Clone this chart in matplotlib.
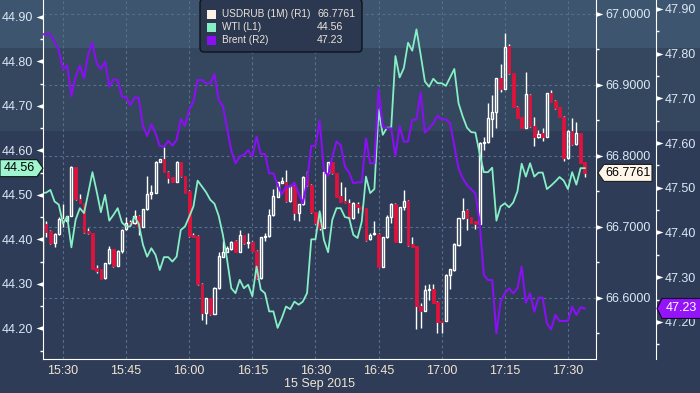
import numpy as np
import pandas as pd
import matplotlib
matplotlib.use("Agg")
import matplotlib.pyplot as plt
import matplotlib.dates as mdates
from matplotlib.patches import Rectangle, Polygon, FancyBboxPatch
from matplotlib.transforms import IdentityTransform
from matplotlib.ticker import FixedLocator, MultipleLocator, FormatStrFormatter

plt.rcParams['font.family'] = ['Liberation Sans', 'DejaVu Sans']

# one-minute bars, 15:25 .. 17:34
times = pd.date_range("2015-09-15 15:25", periods=130, freq="min")

rub_open = [
    66.6488, 66.7042, 66.6949, 66.6770, 66.6897, 66.7113, 66.7080, 66.7150, 66.7850, 66.7389,
    66.7333, 66.6944, 66.6911, 66.6427, 66.6404, 66.6277, 66.6488, 66.6686, 66.6455, 66.6667,
    66.6967, 66.7066, 66.7052, 66.7160, 66.7005, 66.7249, 66.7460, 66.7484, 66.7920, 66.7953,
    66.7780, 66.7700, 66.7639, 66.7920, 66.7722, 66.7507, 66.6888, 66.6878, 66.6197, 66.5784,
    66.5995, 66.5775, 66.6136, 66.6582, 66.6653, 66.6690, 66.6808, 66.6653, 66.6883, 66.6770,
    66.6794, 66.6667, 66.6277, 66.6855, 66.6878, 66.7170, 66.7427, 66.7624, 66.7639, 66.7366,
    66.7582, 66.7202, 66.7319, 66.7718, 66.7592, 66.7207, 66.7066, 66.6991, 66.7765, 66.7911,
    66.7756, 66.7436, 66.7366, 66.7333, 66.7122, 66.7324, 66.7287, 66.7263, 66.6827, 66.6897,
    66.6902, 66.6441, 66.6855, 66.7136, 66.7324, 66.6794, 66.7277, 66.7366, 66.6756, 66.6728,
    66.5887, 66.5821, 66.6113, 66.6122, 66.5944, 66.5671, 66.5681, 66.6324, 66.6395, 66.6747,
    66.7122, 66.7239, 66.7136, 66.7077, 66.7047, 66.8178, 66.8192, 66.8522, 66.8615, 66.9094,
    66.8944, 66.9549, 66.9164, 66.8695, 66.8545, 66.8399, 66.8860, 66.8423, 66.8263, 66.8319,
    66.8273, 66.8883, 66.8775, 66.8686, 66.8554, 66.7967, 66.8352, 66.8164, 66.8319, 66.7911,
]
rub_high = [
    66.7150, 66.7089, 66.6958, 66.6911, 66.7136, 66.7319, 66.7160, 66.7864, 66.7850, 66.7465,
    66.7342, 66.6982, 66.6911, 66.6464, 66.6404, 66.6497, 66.6733, 66.6686, 66.6676, 66.6967,
    66.7136, 66.7099, 66.7234, 66.7169, 66.7258, 66.7718, 66.7592, 66.7930, 66.7963, 66.8133,
    66.7789, 66.7709, 66.7930, 66.7920, 66.7722, 66.7521, 66.6911, 66.6888, 66.6206, 66.6004,
    66.6004, 66.6150, 66.6653, 66.6808, 66.6738, 66.6808, 66.6817, 66.6958, 66.6892, 66.6911,
    66.6808, 66.6676, 66.6864, 66.6911, 66.7254, 66.7535, 66.7639, 66.7709, 66.7803, 66.7592,
    66.7592, 66.7324, 66.7718, 66.7794, 66.7601, 66.7216, 66.7193, 66.7789, 66.7920, 66.7920,
    66.7765, 66.7639, 66.7568, 66.7394, 66.7357, 66.7357, 66.7301, 66.7272, 66.6911, 66.7089,
    66.6911, 66.6864, 66.7170, 66.7333, 66.7333, 66.7287, 66.7521, 66.7376, 66.6855, 66.6738,
    66.5925, 66.6183, 66.6192, 66.6192, 66.5953, 66.5681, 66.6333, 66.6413, 66.6770, 66.7132,
    66.7413, 66.7249, 66.7146, 66.7085, 66.8202, 66.8273, 66.8752, 66.8860, 66.9104, 66.9296,
    66.9728, 66.9577, 66.9174, 66.8704, 66.8554, 66.9188, 66.8869, 66.8554, 66.8366, 66.8399,
    66.8892, 66.8930, 66.8789, 66.8695, 66.8563, 66.8361, 66.8540, 66.8474, 66.8329, 66.7920,
]
rub_low = [
    66.6460, 66.6864, 66.6761, 66.6723, 66.6888, 66.7005, 66.7066, 66.7150, 66.7380, 66.7333,
    66.6920, 66.6902, 66.6413, 66.6357, 66.6263, 66.6272, 66.6479, 66.6441, 66.6451, 66.6629,
    66.6958, 66.7028, 66.7042, 66.6883, 66.6996, 66.7239, 66.7394, 66.7474, 66.7911, 66.7771,
    66.7615, 66.7630, 66.7630, 66.7709, 66.7474, 66.6864, 66.6855, 66.6183, 66.5690, 66.5630,
    66.5761, 66.5770, 66.6131, 66.6573, 66.6643, 66.6676, 66.6643, 66.6643, 66.6761, 66.6700,
    66.6657, 66.6267, 66.6267, 66.6808, 66.6864, 66.7160, 66.7418, 66.7615, 66.7357, 66.7357,
    66.7099, 66.7089, 66.7314, 66.7582, 66.7193, 66.7042, 66.6958, 66.6981, 66.7756, 66.7747,
    66.7418, 66.7348, 66.7333, 66.7113, 66.7113, 66.7193, 66.7249, 66.6808, 66.6817, 66.6888,
    66.6432, 66.6432, 66.6845, 66.7052, 66.6784, 66.6784, 66.7239, 66.6738, 66.6714, 66.5558,
    66.5577, 66.5812, 66.5972, 66.5925, 66.5502, 66.5502, 66.5671, 66.6127, 66.6385, 66.6738,
    66.7113, 66.6958, 66.7052, 66.6967, 66.7038, 66.8085, 66.8178, 66.8273, 66.8399, 66.8897,
    66.8939, 66.9155, 66.8686, 66.8531, 66.8390, 66.8390, 66.8413, 66.8146, 66.8249, 66.8216,
    66.8263, 66.8756, 66.8662, 66.8545, 66.7935, 66.7958, 66.8155, 66.8155, 66.7897, 66.7709,
]
rub_close = [
    66.7122, 66.6934, 66.6770, 66.6897, 66.7113, 66.7085, 66.7150, 66.7850, 66.7389, 66.7342,
    66.6934, 66.6911, 66.6413, 66.6385, 66.6272, 66.6488, 66.6690, 66.6451, 66.6667, 66.6958,
    66.7052, 66.7047, 66.7150, 66.7005, 66.7249, 66.7465, 66.7488, 66.7920, 66.7953, 66.7780,
    66.7696, 66.7639, 66.7920, 66.7718, 66.7484, 66.6878, 66.6864, 66.6197, 66.5784, 66.5995,
    66.5775, 66.6136, 66.6591, 66.6653, 66.6700, 66.6794, 66.6653, 66.6883, 66.6770, 66.6794,
    66.6667, 66.6277, 66.6855, 66.6878, 66.7170, 66.7436, 66.7629, 66.7648, 66.7366, 66.7582,
    66.7202, 66.7319, 66.7709, 66.7592, 66.7207, 66.7052, 66.6991, 66.7780, 66.7911, 66.7756,
    66.7427, 66.7357, 66.7342, 66.7122, 66.7333, 66.7287, 66.7254, 66.6817, 66.6888, 66.6911,
    66.6441, 66.6855, 66.7136, 66.7324, 66.6794, 66.7277, 66.7366, 66.6747, 66.6723, 66.5887,
    66.5821, 66.6113, 66.6122, 66.5934, 66.5667, 66.5657, 66.6324, 66.6404, 66.6761, 66.7122,
    66.7225, 66.7132, 66.7061, 66.7047, 66.8178, 66.8192, 66.8531, 66.8615, 66.9094, 66.8944,
    66.9531, 66.9164, 66.8695, 66.8540, 66.8399, 66.8869, 66.8423, 66.8263, 66.8305, 66.8273,
    66.8883, 66.8766, 66.8672, 66.8554, 66.7967, 66.8352, 66.8164, 66.8319, 66.7907, 66.7761,
]

wti = [
    44.504, 44.505, 44.511, 44.485, 44.478, 44.435, 44.451, 44.382, 44.444, 44.470,
    44.459, 44.504, 44.551, 44.508, 44.461, 44.500, 44.442, 44.455, 44.470, 44.438,
    44.429, 44.429, 44.451, 44.435, 44.388, 44.361, 44.380, 44.365, 44.331, 44.360,
    44.360, 44.350, 44.361, 44.421, 44.429, 44.451, 44.474, 44.532, 44.519, 44.506,
    44.489, 44.480, 44.453, 44.410, 44.354, 44.290, 44.279, 44.309, 44.290, 44.298,
    44.272, 44.339, 44.287, 44.279, 44.238, 44.238, 44.201, 44.223, 44.249, 44.243,
    44.260, 44.253, 44.260, 44.279, 44.400, 44.400, 44.463, 44.399, 44.371, 44.444,
    44.470, 44.470, 44.450, 44.448, 44.410, 44.403, 44.440, 44.541, 44.504, 44.513,
    44.691, 44.635, 44.651, 44.651, 44.812, 44.764, 44.785, 44.842, 44.824, 44.872,
    44.815, 44.755, 44.743, 44.761, 44.751, 44.751, 44.745, 44.764, 44.783, 44.706,
    44.676, 44.651, 44.641, 44.640, 44.594, 44.551, 44.551, 44.561, 44.442, 44.474,
    44.481, 44.472, 44.483, 44.508, 44.570, 44.541, 44.571, 44.541, 44.550, 44.550,
    44.513, 44.521, 44.530, 44.540, 44.532, 44.513, 44.551, 44.523, 44.560, 44.560,
]

brent = [
    47.8433, 47.8433, 47.8433, 47.8269, 47.8082, 47.7657, 47.7732, 47.7053, 47.7471, 47.7732,
    47.7449, 47.7993, 47.8246, 47.7784, 47.7657, 47.7821, 47.7262, 47.7426, 47.7411, 47.7038,
    47.7023, 47.6845, 47.7016, 47.7016, 47.6382, 47.6159, 47.6420, 47.6218, 47.5935, 47.5920,
    47.6047, 47.5942, 47.6069, 47.6539, 47.6382, 47.6740, 47.6927, 47.7411, 47.7411, 47.7337,
    47.7337, 47.7546, 47.6964, 47.6830, 47.6330, 47.5830, 47.5547, 47.5696, 47.5733, 47.5845,
    47.5696, 47.6144, 47.5756, 47.5756, 47.5324, 47.5324, 47.5062, 47.4854, 47.5025, 47.5025,
    47.5115, 47.4876, 47.4652, 47.5137, 47.5935, 47.5942, 47.6502, 47.5398, 47.5264, 47.5696,
    47.6032, 47.5957, 47.5473, 47.5339, 47.5100, 47.5122, 47.5122, 47.6106, 47.5547, 47.5547,
    47.7203, 47.6367, 47.6330, 47.6330, 47.5711, 47.6382, 47.6032, 47.6032, 47.6516, 47.6531,
    47.7128, 47.6233, 47.6330, 47.6442, 47.6613, 47.6531, 47.6531, 47.6442, 47.5942, 47.5435,
    47.5211, 47.5062, 47.4965, 47.4876, 47.4242, 47.3049, 47.2937, 47.2937, 47.1744, 47.2452,
    47.2639, 47.2751, 47.2639, 47.2751, 47.3235, 47.2430, 47.2639, 47.2229, 47.2542, 47.2542,
    47.1968, 47.1833, 47.2154, 47.2020, 47.2020, 47.2020, 47.2340, 47.2154, 47.2325, 47.2300,
]

wti_ticks = [44.2, 44.3, 44.4, 44.5, 44.6, 44.7, 44.8, 44.9]
rub_ticks = [66.6, 66.7, 66.8, 66.9, 67.0]
brent_ticks = [47.2, 47.3, 47.4, 47.5, 47.6, 47.7, 47.8, 47.9]

legend_names = ["USDRUB (1M) (R1)", "WTI (L1)", "Brent (R2)"]
legend_values = ["66.7761", "44.56", "47.23"]

BG_LOW = "#2e3c58"
BG_MID = "#35475f"
BG_TOP = "#3d556e"
GRID = "#56708c"
RED = "#e0123c"
WTI_C = "#86efc4"
BRENT_C = "#8a0ff2"
RUB_C = "#fdf2e6"
YLAB = "#dce8f5"
XLAB = "#f2e4d0"

W, H = 700, 393
fig = plt.figure(figsize=(W / 100, H / 100), dpi=100)
fig.patch.set_facecolor(BG_LOW)


def fx(x):
    return x / W


def fy(y):
    return 1 - y / H


# background bands across the whole picture
fig.add_artist(Rectangle((0, fy(48)), 1, 48 / H, transform=fig.transFigure,
                         color=BG_TOP, lw=0, zorder=-10))
fig.add_artist(Rectangle((0, fy(131)), 1, 83 / H, transform=fig.transFigure,
                         color=BG_MID, lw=0, zorder=-10))

ax = fig.add_axes([fx(43), fy(359), fx(596) - fx(43), 359 / H])
ax.set_facecolor("none")
ax_w = ax.twinx()
ax_b = ax.twinx()

xs = mdates.date2num(times)
minute = 1 / 1440.0

# candles (USDRUB, R1)
o = np.array(rub_open)
c = np.array(rub_close)
hi = np.array(rub_high)
lo = np.array(rub_low)
up = c >= o
top = np.maximum(o, c)
bot = np.minimum(o, c)
ax.vlines(xs, top, hi, color="white", lw=1, zorder=2)
ax.vlines(xs, lo, bot, color="white", lw=1, zorder=2)
ax.bar(xs[up], (top - bot)[up], bottom=bot[up], width=0.5 * minute,
       facecolor="none", edgecolor="white", lw=1, zorder=3)
ax.bar(xs[~up], (top - bot)[~up], bottom=bot[~up], width=0.62 * minute,
       color=RED, edgecolor=RED, lw=0.6, zorder=3)

ax_w.plot(xs, wti, color=WTI_C, lw=1.3)
ax_b.plot(xs, brent, color=BRENT_C, lw=1.5)

x0 = mdates.date2num(pd.Timestamp("2015-09-15 15:25:15"))
x1 = mdates.date2num(pd.Timestamp("2015-09-15 17:36:40"))
ax.set_xlim(x0, x1)
ax.set_ylim(66.514, 67.0197)
ax_w.set_ylim(44.131, 44.938)
ax_b.set_ylim(47.117, 47.920)

ax.xaxis.set_major_locator(mdates.MinuteLocator(byminute=[0, 15, 30, 45]))
ax.xaxis.set_major_formatter(mdates.DateFormatter("%H:%M"))
ax.tick_params(axis="x", length=0, pad=4, labelsize=9, labelcolor=XLAB)

ax.grid(True, color=GRID, ls=(0, (2.5, 2.5)), lw=0.8)
ax.set_axisbelow(True)

for a in (ax, ax_w, ax_b):
    for s in a.spines.values():
        s.set_visible(False)
ax.spines["bottom"].set_visible(True)
ax.spines["bottom"].set_color("white")
ax.spines["right"].set_visible(True)
ax.spines["right"].set_color("white")
ax_w.spines["left"].set_visible(True)
ax_w.spines["left"].set_color("white")
ax_b.spines["right"].set_visible(True)
ax_b.spines["right"].set_color("white")
ax_b.spines["right"].set_position(("axes", 1.1085))

# R1 ticks
ax.yaxis.tick_right()
ax.yaxis.set_major_locator(FixedLocator(rub_ticks))
ax.yaxis.set_major_formatter(FormatStrFormatter("%.4f"))
ax.yaxis.set_minor_locator(MultipleLocator(0.05))
ax.tick_params(axis="y", which="major", length=0, pad=6.5, labelsize=9, labelcolor=YLAB)
ax.tick_params(axis="y", which="minor", length=2.5, width=1, color="white", direction="out")

# L1 ticks
ax_w.yaxis.tick_left()
ax_w.yaxis.set_major_locator(FixedLocator(wti_ticks))
ax_w.yaxis.set_major_formatter(FormatStrFormatter("%.2f"))
ax_w.yaxis.set_minor_locator(MultipleLocator(0.05))
ax_w.tick_params(axis="y", which="major", length=0, pad=7.2, labelsize=9, labelcolor=YLAB)
ax_w.tick_params(axis="y", which="minor", length=2.5, width=1, color="white", direction="out")

# R2 ticks
ax_b.yaxis.set_major_locator(FixedLocator(brent_ticks))
ax_b.yaxis.set_major_formatter(FormatStrFormatter("%.2f"))
ax_b.yaxis.set_minor_locator(MultipleLocator(0.05))
ax_b.tick_params(axis="y", which="major", length=0, pad=6.5, labelsize=9, labelcolor=YLAB)
ax_b.tick_params(axis="y", which="minor", length=2.5, width=1, color="white", direction="out")

# triangle tick marks
tri_l = [(0, 0.35), (-1, 0), (0, -0.35), (0, 0.35)]
tri_r = [(0, 0.35), (1, 0), (0, -0.35), (0, 0.35)]
ax_w.plot([0] * len(wti_ticks), wti_ticks, ls="none", marker=tri_l, ms=10, mew=0,
          color="white", transform=ax_w.get_yaxis_transform(), clip_on=False)
ax.plot([1] * len(rub_ticks), rub_ticks, ls="none", marker=tri_r, ms=10, mew=0,
        color="white", transform=ax.get_yaxis_transform(), clip_on=False)
ax_b.plot([1.1085] * len(brent_ticks), brent_ticks, ls="none", marker=tri_r, ms=10, mew=0,
          color="white", transform=ax_b.get_yaxis_transform(), clip_on=False)

fig.text(fx(320), fy(384), "15 Sep 2015", ha="center", va="center", fontsize=9, color=XLAB)


# last-value tags
def ypix(a, v):
    return H - a.transData.transform((0, v))[1]


def tag(points, fill, edge, text, tx, ty, tcolor):
    pts = [(x, H - y) for x, y in points]
    fig.add_artist(Polygon(pts, closed=True, fc=fill, ec=edge, lw=0.8,
                           transform=IdentityTransform(), zorder=6))
    fig.text(fx(tx), fy(ty), text, ha="center", va="center", fontsize=9,
             color=tcolor, zorder=7)


yw = ypix(ax_w, wti[-1])
tag([(0, yw - 8.5), (37, yw - 8.5), (43, yw), (37, yw + 8.5), (0, yw + 8.5)],
    "#9ff5cf", "#0d1a14", "%.2f" % wti[-1], 19, yw, "black")
yr = ypix(ax, rub_close[-1])
tag([(598, yr), (604, yr - 8.5), (652, yr - 8.5), (652, yr + 8.5), (604, yr + 8.5)],
    "#fff6ea", "#202020", "%.4f" % rub_close[-1], 628, yr, "black")
yb = ypix(ax_b, brent[-1])
tag([(657, yb), (662, yb - 10), (701, yb - 10), (701, yb + 10), (662, yb + 10)],
    "#9414f8", "#1a0030", "%.2f" % brent[-1], 681, yb, "white")

# legend box
fig.add_artist(FancyBboxPatch((200, H - 52), 162, 53, boxstyle="round,pad=0,rounding_size=4",
                              fc="#2b3850", ec="#0e131c", lw=1,
                              transform=IdentityTransform(), zorder=8))
for i, (name, val, col) in enumerate(zip(legend_names, legend_values, [RUB_C, WTI_C, BRENT_C])):
    yrow = 14 + 13 * i
    fig.add_artist(Rectangle((207, H - yrow - 4.5), 9, 9, fc=col, lw=0,
                             transform=IdentityTransform(), zorder=9))
    fig.text(fx(222), fy(yrow), name, ha="left", va="center", fontsize=7.2,
             color="#ece4da", zorder=9)
    fig.text(fx(317), fy(yrow), val, ha="left", va="center", fontsize=7.6,
             color="#ece4da", zorder=9)

fig.savefig("out.png", dpi=100, facecolor=fig.get_facecolor())
